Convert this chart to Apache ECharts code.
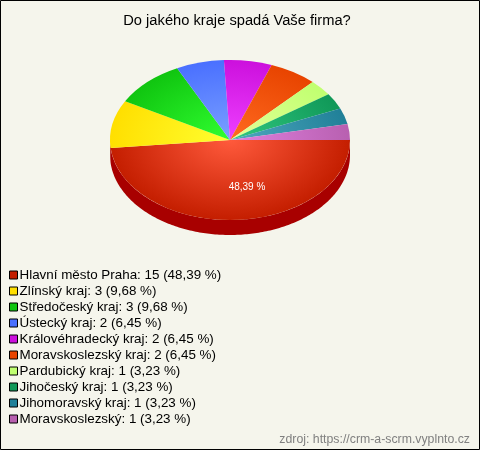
<!DOCTYPE html>
<html><head><meta charset="utf-8">
<style>html,body{margin:0;padding:0;background:#f5f5ec}#c{width:480px;height:450px}</style>
<script src="https://cdn.jsdelivr.net/npm/echarts@6/dist/echarts.min.js"></script>
</head><body><div id="c"></div>
<script>
const categories = ["Hlavní město Praha","Zlínský kraj","Středočeský kraj","Ústecký kraj","Královéhradecký kraj","Moravskoslezský kraj","Pardubický kraj","Jihočeský kraj","Jihomoravský kraj","Moravskoslezský"];
const values = [15,3,3,2,2,2,1,1,1,1];
const shares = ["48,39","9,68","9,68","6,45","6,45","6,45","3,23","3,23","3,23","3,23"];
const edgeColors = ["#c41e00","#ffdf00","#10c510","#4a70ff","#cc10dd","#e84400","#c0ff70","#109858","#208098","#b860b0"];
const centerColors = ["#ff5a3c","#ffff30","#30ff30","#7aa0ff","#ee40ff","#ff6a20","#e4ff98","#30c880","#50a8c0","#e080e0"];
const rimColors = ["#a80000","#a80000","#0a8a0a","#2a4ab0","#8a0a9a","#a02c00","#80b048","#0a6a3c","#145a6c","#804078"];

const CX=230, CY=140, R=120, SY=2/3, DEPTH=15;
const total = values.reduce((a,b)=>a+b,0);
let acc=0;
const spans = values.map(v=>{const s=acc/total*Math.PI*2; acc+=v; return [s,acc/total*Math.PI*2];});

function topSlice(i,s,e,fill){
  return {type:'group',x:CX,y:CY,scaleY:SY,silent:true,children:[{
    type:'sector',
    shape:{cx:0,cy:0,r:R,r0:0,startAngle:s,endAngle:e,clockwise:true},
    style:{fill,stroke:null}
  }]};
}
function rimSlice(i,s,e){
  const a=Math.max(s,0), b=Math.min(e,Math.PI);
  if(b<=a) return null;
  const pts=[], n=Math.max(2,Math.ceil((b-a)*60));
  for(let k=0;k<=n;k++){const t=a+(b-a)*k/n;pts.push([CX+R*Math.cos(t),CY+R*SY*Math.sin(t)]);}
  for(let k=n;k>=0;k--){const t=a+(b-a)*k/n;pts.push([CX+R*Math.cos(t),CY+DEPTH+R*SY*Math.sin(t)]);}
  return {type:'polygon',silent:true,shape:{points:pts},style:{fill:rimColors[i]}};
}
const series = [{
  type:'custom',name:'_rim',coordinateSystem:'none',z:1,silent:true,animation:false,
  data:spans.map((s,i)=>[s[0],s[1],i]),
  renderItem:(p,api)=>rimSlice(api.value(2),api.value(0),api.value(1))
}];
categories.forEach((name,i)=>{
  series.push({
    type:'custom',name,coordinateSystem:'none',z:2,silent:true,animation:false,
    itemStyle:{color:edgeColors[i]},
    data:[[spans[i][0],spans[i][1]]],
    renderItem:(p,api)=>{
      const g=topSlice(i,api.value(0),api.value(1),{type:'radial',x:0,y:0,r:R,global:true,
        colorStops:[{offset:0,color:centerColors[i]},{offset:1,color:edgeColors[i]}]});
      if(i===0){
        const mid=(api.value(0)+api.value(1))/2;
        return {type:'group',silent:true,children:[g,{type:'text',silent:true,
          x:CX+R*0.575*Math.cos(mid)+13.5,y:CY+R*SY*0.575*Math.sin(mid)+1,
          style:{text:shares[i]+' %',fill:'#fff',font:'10px "Liberation Sans",Arial',align:'center',verticalAlign:'middle'}}]};
      }
      return g;
    }
  });
});
const chart = echarts.init(document.getElementById('c'),null,{renderer:'canvas'});
chart.setOption({
  animation:false,
  backgroundColor:'#f5f5ec',
  title:[
    {text:'Do jakého kraje spadá Vaše firma?',left:232,top:8,textAlign:'center',
     textStyle:{fontFamily:'"Liberation Sans",Arial',fontSize:14.7,fontWeight:'normal',color:'#000'}},
    {text:'zdroj: https://crm-a-scrm.vyplnto.cz',right:5,top:429,
     textStyle:{fontFamily:'"Liberation Sans",Arial',fontSize:12.3,fontWeight:'normal',color:'#808080'}}
  ],
  legend:{
    data:categories,orient:'vertical',left:9,top:268,itemWidth:8,itemHeight:8,itemGap:2,icon:'rect',
    selectedMode:false,padding:0,
    itemStyle:{borderColor:'#000',borderWidth:1},
    textStyle:{fontFamily:'"Liberation Sans",Arial',fontSize:13.4,color:'#000',padding:[0,0,0,-3],lineHeight:14},
    formatter:n=>{const i=categories.indexOf(n);return n+': '+values[i]+' ('+shares[i]+' %)';}
  },
  graphic:[{type:'rect',silent:true,z:100,shape:{x:0.5,y:0.5,width:479,height:449},style:{fill:null,stroke:'#000',lineWidth:1}}],
  series
});
</script></body></html>
